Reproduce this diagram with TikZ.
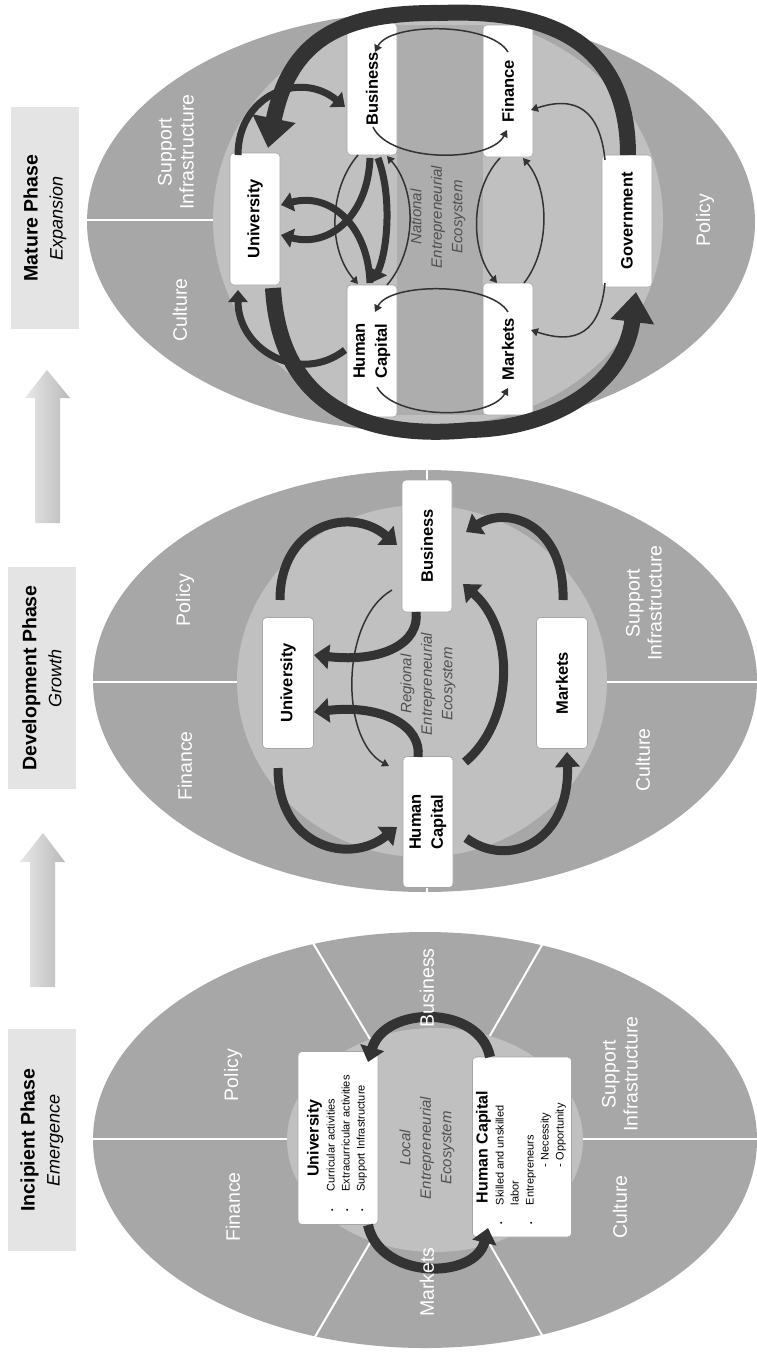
\documentclass[tikz,border=0pt]{standalone}
\usepackage{fontspec}
\setmainfont{Liberation Sans}
\usetikzlibrary{arrows.meta,calc}

\definecolor{ringgray}{HTML}{A7A7A7}
\definecolor{coregray}{HTML}{C0C0C0}
\definecolor{bandgray}{HTML}{ADADAD}
\definecolor{tabgray}{HTML}{E4E4E4}
\definecolor{inkgray}{HTML}{333333}
\definecolor{hubgray}{HTML}{505050}

\tikzset{
  phasebox/.style={fill=tabgray, rotate=90, align=center, minimum width=222pt,
    minimum height=68pt, inner sep=0pt, font=\fontsize{19.5}{25}\selectfont},
  sector/.style={text=white, rotate=90, align=center, font=\fontsize{19.5}{22}\selectfont},
  actor/.style={draw=gray!70, line width=0.6pt, fill=white, rounded corners=4pt,
    rotate=90, align=center, inner sep=2pt, minimum width=132pt, minimum height=50pt,
    font=\bfseries\fontsize{16.5}{22}\selectfont},
  hub/.style={rotate=90, align=center, text=hubgray, font=\itshape\fontsize{15}{20.5}\selectfont},
  divider/.style={draw=white, line width=2pt},
  flow/.style={draw=inkgray, line width=9pt, -{Triangle[width=24pt,length=15pt]}},
  lightflow/.style={draw=inkgray, line width=7pt, -{Triangle[width=19pt,length=12pt]}},
  link/.style={draw=inkgray, line width=1.5pt, -{Triangle[width=8pt,length=7pt]}},
  sweep/.style={draw=inkgray, line width=16pt, -{Triangle[width=42pt,length=30pt]}},
}
\newcommand{\dotitem}{\hspace*{11pt}{\fontsize{7}{7}\selectfont\textbullet}}

\begin{document}
\begin{tikzpicture}[x=1pt, y=-1pt]
\fill[white] (0,0) rectangle (757,1353);
\useasboundingbox (0,0) rectangle (757,1353);

% phase tabs and progress arrows
\node[phasebox] (tMat) at (45,218) {\textbf{Mature Phase}\\{\itshape\fontsize{18}{25}\selectfont Expansion}};
\node[phasebox] (tDev) at (42,678) {\textbf{Development Phase}\\{\itshape\fontsize{18}{25}\selectfont Growth}};
\node[phasebox] (tInc) at (42,1140) {\textbf{Incipient Phase}\\{\itshape\fontsize{18}{25}\selectfont Emergence}};
\shade[left color=gray!18, right color=gray!55] (35,523) -- (35,398) -- (25,398) -- (47,370)
  -- (70,398) -- (60,398) -- (60,523) -- cycle;
\shade[left color=gray!18, right color=gray!55] (30,987) -- (30,862) -- (20,862) -- (43,833)
  -- (65,862) -- (55,862) -- (55,987) -- cycle;

% mature ellipse
\fill[ringgray] (421,222) ellipse [x radius=334pt, y radius=210pt];
\draw[divider] (80,220) -- (300,220);
\fill[coregray] (438,220) ellipse [x radius=225pt, y radius=205pt];
\fill[bandgray] (397,25) rectangle (483,415);

% development ellipse
\fill[ringgray] (425,681) ellipse [x radius=332pt, y radius=211pt];
\draw[divider] (85,682) -- (760,682);
\draw[divider] (427,462) -- (427,900);
\fill[coregray] (422,681) ellipse [x radius=185pt, y radius=176pt];

% incipient ellipse
\fill[ringgray] (425,1140) ellipse [x radius=332pt, y radius=208pt];
\draw[divider] (85,1139) -- (760,1139);
\foreach \ex/\ey in {310/938, 312/1342, 546/938, 546/1342}
  \draw[divider] (430,1140) -- (\ex,\ey);
\fill[coregray] (435,1140) ellipse [x radius=148pt, y radius=112pt];

% mature actors
\node[actor] (mU) at (255,219) {University};
\node[actor] (mB) at (372,89) {Business};
\node[actor] (mH) at (372,351) {Human\\Capital};
\node[actor] (mF) at (508,91) {Finance};
\node[actor] (mM) at (508,349) {Markets};
\node[actor] (mG) at (627,221) {Government};

% development actors
\node[actor, minimum width=131pt, minimum height=51pt] (dU) at (288,683) {University};
\node[actor] (dB) at (427,546) {Business};
\node[actor, minimum width=131pt] (dH) at (428,822) {Human\\Capital};
\node[actor, minimum width=131pt, minimum height=51pt] (dM) at (562,683) {Markets};

% incipient actors
\node[actor, minimum width=173pt, minimum height=80pt, font=\fontsize{11}{15}\selectfont] (iU) at (338,1138) {%
  \begin{tabular}{@{}p{31pt}@{}p{138pt}@{}}
  \multicolumn{2}{c}{\bfseries\fontsize{16}{19}\selectfont University}\\[1pt]
  \dotitem & Curricular activities\\
  \dotitem & Extracurricular activities\\
  \dotitem & Support Infrastructure
  \end{tabular}};
\node[actor, minimum width=180pt, minimum height=99pt, font=\fontsize{11}{15}\selectfont] (iH) at (522,1147) {%
  \begin{tabular}{@{}p{30pt}@{}p{146pt}@{}}
  \multicolumn{2}{c}{\bfseries\fontsize{16}{19}\selectfont Human Capital}\\[1pt]
  \dotitem & Skilled and unskilled\\
  & labor\\
  \dotitem & Entrepreneurs\\
  & \hspace{38pt}- Necessity\\
  & \hspace{38pt}- Opportunity
  \end{tabular}};

% mature flows
\draw[sweep] ($(mG)+(1,-66)$) .. controls +(0,-105) and +(120,-5) .. (440,13)
  .. controls +(-100,-1) and +(22,-108) .. ($(mU)+(13,-71)$);
\draw[sweep] ($(mU)+(18,69)$) .. controls +(7,122) and +(-100,10) .. (470,430)
  .. controls +(90,-2) and +(-11,88) .. ($(mG)+(9,71)$);
\draw[lightflow] ($(mU)+(-17,-64)$) .. controls +(0,-60) and +(-45,-37) .. ($(mB)+(-27,18)$);
\draw[lightflow] ($(mH)+(-27,-1)$) .. controls +(-45,35) and +(0,60) .. ($(mU)+(-17,71)$);
\draw[lightflow] ($(mB)+(-2,69)$) .. controls +(-2,57) and +(49,13) .. ($(mU)+(26,16)$);
\draw[lightflow] ($(mH)+(-2,-68)$) .. controls +(-2,-58) and +(49,-13) .. ($(mU)+(26,-14)$);
\draw[lightflow] ($(mB)+(6,69)$) .. controls +(14,37) and +(15,-32) .. ($(mH)+(1,-69)$);
\draw[link] ($(mB)+(-14,66)$) .. controls +(-30,35) and +(-30,-34) .. ($(mH)+(-14,-67)$);
\draw[link] ($(mH)+(15,-66)$) .. controls +(30,-35) and +(30,34) .. ($(mB)+(15,67)$);
\draw[link] ($(mG)+(-22,-61)$) .. controls +(-5,-50) and +(45,-15) .. ($(mF)+(23,19)$);
\draw[link] ($(mG)+(-22,62)$) .. controls +(-5,50) and +(45,15) .. ($(mM)+(23,-19)$);
\draw[link] ($(mF)+(-8,67)$) .. controls +(-30,32) and +(-27,-33) .. ($(mM)+(-11,-66)$);
\draw[link] ($(mM)+(16,-66)$) .. controls +(26,-33) and +(27,32) .. ($(mF)+(15,67)$);
\draw[link] ($(mF)+(0,-39)$) .. controls +(-18,-30) and +(15,-30) .. ($(mB)+(3,-37)$);
\draw[link] ($(mB)+(1,38)$) .. controls +(17,36) and +(-17,33) .. ($(mF)+(-1,39)$);
\draw[link] ($(mM)+(0,-37)$) .. controls +(-18,-30) and +(15,-30) .. ($(mH)+(3,-39)$);
\draw[link] ($(mH)+(5,36)$) .. controls +(18,33) and +(-18,32) .. ($(mM)+(0,39)$);

% development flows
\draw[flow] ($(dU)+(-8,-83)$) .. controls +(0,-75) and +(-47,-40) .. ($(dB)+(-30,-1)$);
\draw[flow] ($(dM)+(1,-83)$) .. controls +(2,-75) and +(42,-27) .. ($(dB)+(39,-14)$);
\draw[flow] ($(dU)+(-10,85)$) .. controls +(0,80) and +(-47,38) .. ($(dH)+(-31,5)$);
\draw[flow] ($(dH)+(38,16)$) .. controls +(44,32) and +(3,88) .. ($(dM)+(5,69)$);
\draw[flow] ($(dB)+(-11,66)$) .. controls +(4,30) and +(70,8) .. ($(dU)+(26,-28)$);
\draw[flow] ($(dH)+(-10,-65)$) .. controls +(4,-30) and +(70,-8) .. ($(dU)+(26,29)$);
\draw[flow] ($(dH)+(37,-60)$) .. controls +(50,-42) and +(52,46) .. ($(dB)+(36,38)$);
\draw[link] ($(dB)+(-35,44)$) .. controls +(-52,30) and +(-49,-26) .. ($(dH)+(-39,-56)$);

% incipient flows
\draw[flow, line width=10pt] ($(iH)+(-32,-90)$) .. controls +(-10,-52) and +(17,-57) .. ($(iU)+(30,-76)$);
\draw[flow, line width=10pt] ($(iU)+(30,87)$) .. controls +(12,55) and +(-13,52) .. ($(iH)+(-34,81)$);

% ecosystem names
\node[hub] (hMat) at (438,217) {National\\Entrepreneurial\\Ecosystem};
\node[hub] (hDev) at (428,684) {Regional\\Entrepreneurial\\Ecosystem};
\node[hub] (hInc) at (427,1148) {Local\\Entrepreneurial\\Ecosystem};

% sector labels
\node[sector] (sM1) at (176,152) {Support\\Infrastructure};
\node[sector] (sM2) at (180,310) {Culture};
\node[sector] (sM3) at (705,220) {Policy};
\node[sector] (sD1) at (185,600) {Policy};
\node[sector] (sD2) at (185,766) {Finance};
\node[sector] (sD3) at (644,603) {Support\\Infrastructure};
\node[sector] (sD4) at (643,760) {Culture};
\node[sector] (sI1) at (233,1207) {Finance};
\node[sector] (sI2) at (233,1075) {Policy};
\node[sector] (sI3) at (427,988) {Business};
\node[sector] (sI4) at (427,1282) {Markets};
\node[sector] (sI5) at (620,1074) {Support\\Infrastructure};
\node[sector] (sI6) at (620,1207) {Culture};
\end{tikzpicture}
\end{document}
